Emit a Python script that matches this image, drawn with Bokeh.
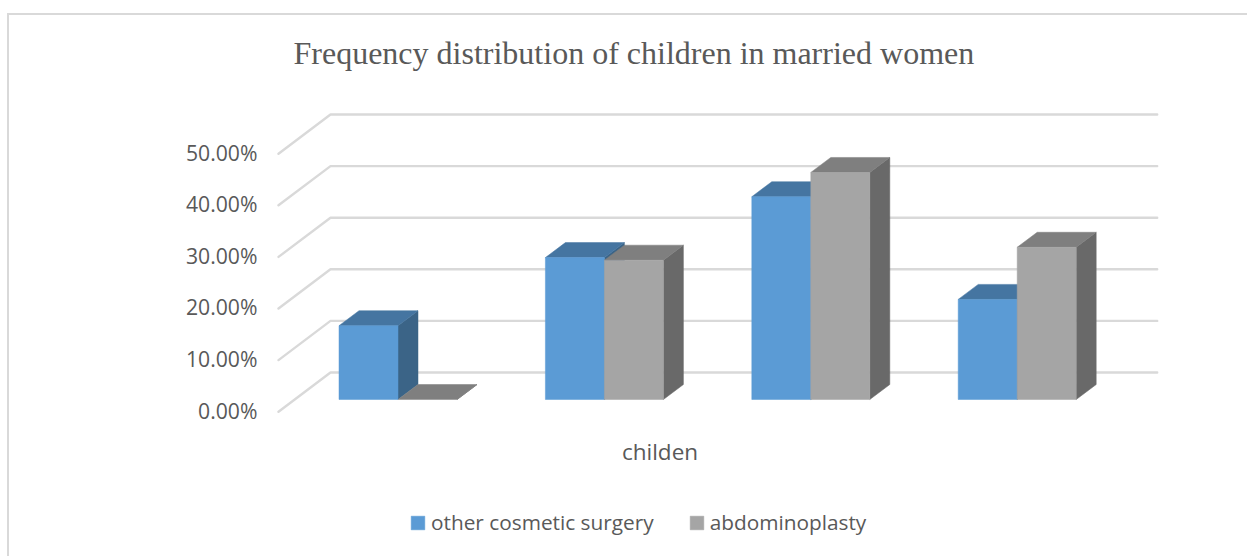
from bokeh.plotting import figure
from bokeh.embed import file_html
from bokeh.resources import INLINE
from bokeh.models import (FixedTicker, Label, Legend, LegendItem,
                          LinearAxis, NumeralTickFormatter, Range1d, Title)

# ---- data ----
groups = [0, 1, 2, 3]
other_cosmetic = [0.143, 0.275, 0.393, 0.194]
abdominoplasty = [0.0, 0.27, 0.44, 0.295]
y_ticks = [0.0, 0.1, 0.2, 0.3, 0.4, 0.5]
series_names = ["other cosmetic surgery", "abdominoplasty"]
title_text = "Frequency distribution of children in married women"
x_title = "childen"

# ---- layout of the pseudo 3-D scene (page pixels) ----
PX_PER_GROUP = 206.4
PX_PER_UNIT = 516.0
GROUP0_PX = 397.5
BASE_PX = 399.0
FRAME_LEFT, FRAME_RIGHT, FRAME_TOP, FRAME_BOTTOM = 262, 1247, 87, 556
OX, OY = 9, 15   # where the canvas starts, inside the chart-area border


def xd(px):
    return (px - GROUP0_PX) / PX_PER_GROUP


def yd(py):
    return (BASE_PX - py) / PX_PER_UNIT


BAR_W = 59.0 / PX_PER_GROUP
DX = 20.0 / PX_PER_GROUP
DY = 15.0 / PX_PER_UNIT
BACK_DV = 27.0 / PX_PER_UNIT
FRONT_DV = -12.2 / PX_PER_UNIT
AXIS_DV = 10.5 / PX_PER_UNIT

p = figure(width=1247 - OX, height=556 - OY, output_backend="svg", toolbar_location=None,
           x_range=Range1d(xd(FRAME_LEFT), xd(FRAME_RIGHT)),
           y_range=Range1d(yd(FRAME_BOTTOM), yd(FRAME_TOP)),
           frame_width=FRAME_RIGHT - FRAME_LEFT, frame_height=FRAME_BOTTOM - FRAME_TOP,
           min_border_left=FRAME_LEFT - OX, min_border_right=0,
           min_border_top=FRAME_TOP - OY, min_border_bottom=0)
p.styles = {"margin-left": "7px", "margin-top": "13px", "box-sizing": "content-box",
            "border-top": "2px solid #d9d9d9", "border-left": "2px solid #d9d9d9"}
p.outline_line_color = None
p.grid.visible = False
p.xaxis.visible = False
p.yaxis.visible = False

p.title = Title(text=title_text, align="left", offset=31, standoff=34,
                text_font="Liberation Serif", text_font_size="32px",
                text_font_style="normal", text_color="#595959")

# value axis on the front plane
p.extra_y_ranges = {"front": Range1d(yd(FRAME_BOTTOM) + AXIS_DV, yd(FRAME_TOP) + AXIS_DV)}
axis = LinearAxis(y_range_name="front", ticker=FixedTicker(ticks=y_ticks),
                  formatter=NumeralTickFormatter(format="0.00%"))
axis.axis_line_color = None
axis.major_tick_line_color = None
axis.minor_tick_line_color = None
axis.major_label_standoff = -1
axis.major_label_text_font = "Open Sans"
axis.major_label_text_font_size = "21.2px"
axis.major_label_text_color = "#595959"
p.add_layout(axis, "left")

# gridlines: floor-side segment + back wall
GRID_FRONT, GRID_BACK, GRID_END = xd(278), xd(330), xd(1156.7)
p.multi_line(
    xs=[[GRID_FRONT, GRID_BACK, GRID_END] for _ in y_ticks],
    ys=[[t + FRONT_DV, t + BACK_DV, t + BACK_DV] for t in y_ticks],
    line_color="#d9d9d9", line_width=2.4, line_join="round", line_cap="round")


def draw_series(values, offset, front, top, side):
    fx, fy, tx, ty, sx, sy = [], [], [], [], [], []
    for g, v in zip(groups, values):
        l = g + offset
        r = l + BAR_W
        fx.append([l, r, r, l]); fy.append([0, 0, v, v])
        tx.append([l, r, r + DX, l + DX]); ty.append([v, v, v + DY, v + DY])
        sx.append([r, r + DX, r + DX, r]); sy.append([0, DY, v + DY, v])
    p.patches(sx, sy, fill_color=side, line_color=side, line_width=0.5)
    p.patches(tx, ty, fill_color=top, line_color=top, line_width=0.5)
    return p.patches(fx, fy, fill_color=front, line_color=front, line_width=0.5)


r_other = draw_series(other_cosmetic, -BAR_W, "#5b9bd5", "#4575a1", "#3b6487")
r_abdo = draw_series(abdominoplasty, 0.0, "#a5a5a5", "#7f7f7f", "#696969")

# x axis title
p.add_layout(Label(x=xd(659.5), y=yd(451), text=x_title, text_align="center", text_baseline="middle",
                   text_font="Open Sans", text_font_size="22.5px", text_color="#595959"))

legend = Legend(items=[LegendItem(label=series_names[0], renderers=[r_other]),
                       LegendItem(label=series_names[1], renderers=[r_abdo])],
                orientation="horizontal", location=(147, 20),
                background_fill_alpha=0, border_line_color=None, padding=0, margin=0,
                glyph_width=17, glyph_height=17, label_standoff=5, spacing=34,
                label_text_font="Open Sans", label_text_font_size="20.8px",
                label_text_color="#595959")
p.add_layout(legend, "center")

open("out.html", "w").write(file_html(p, INLINE))
